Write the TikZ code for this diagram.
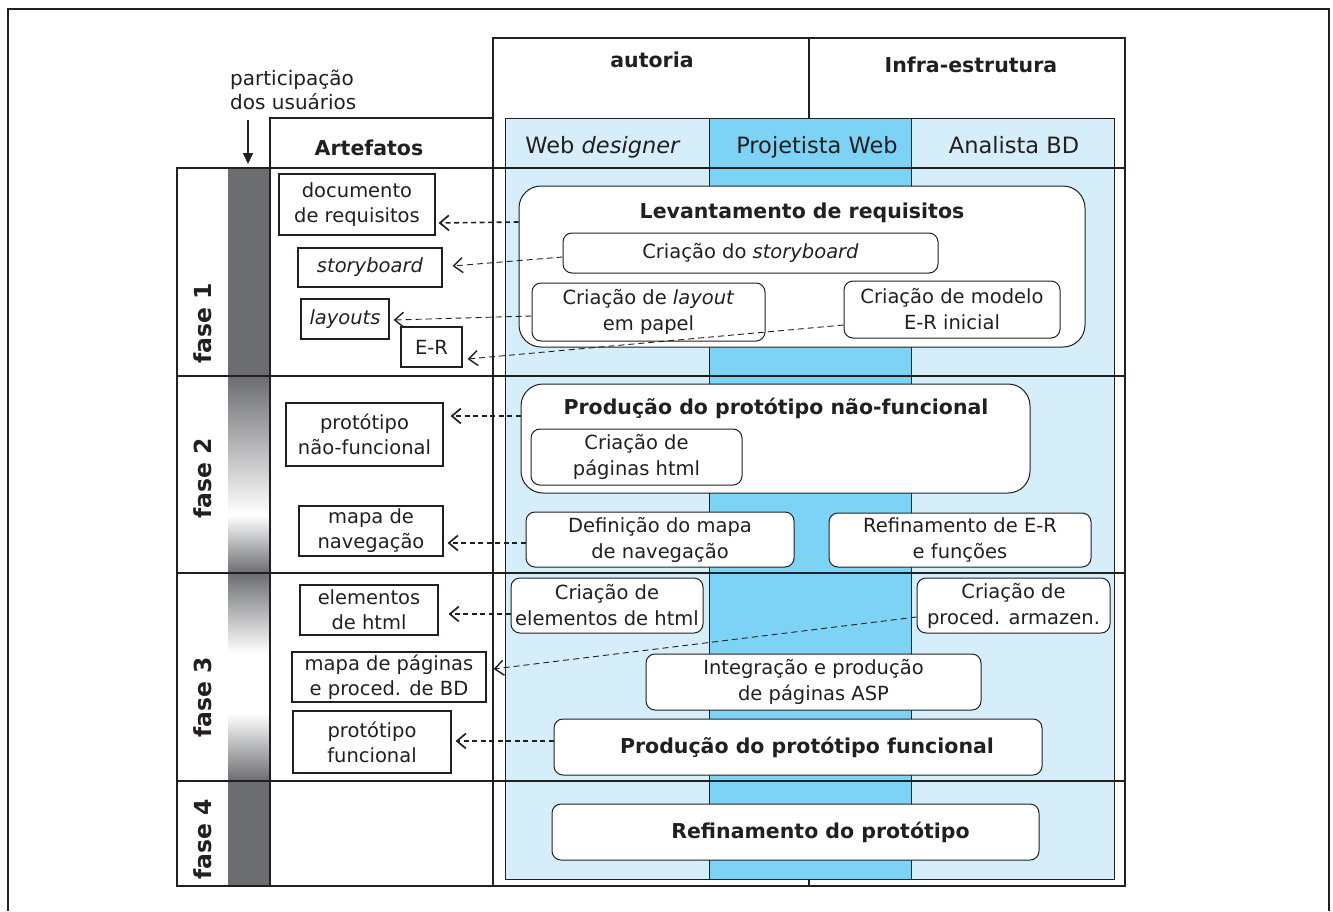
\documentclass[tikz,border=0pt]{standalone}
\usepackage{fontspec}
\setmainfont{DejaVu Sans}
\usetikzlibrary{positioning, arrows.meta, calc}

\definecolor{tinta}{RGB}{35,31,32}
\definecolor{azulclaro}{RGB}{214,237,250}
\definecolor{azulforte}{RGB}{125,211,245}
\definecolor{cinzabarra}{RGB}{108,109,113}

\begin{document}
\begin{tikzpicture}[
        x=1pt, y=-1pt,
        color=tinta,
        linha/.style={line width=1.3pt},
        artefato/.style={draw, line width=1.1pt, inner sep=0pt, align=center, font=\fontsize{19.5}{25}\selectfont},
        etapa/.style={draw, fill=white, line width=1pt, rounded corners=9pt, inner sep=0pt, align=center, font=\fontsize{19.5}{26}\selectfont},
        grupo/.style={etapa, rounded corners=22pt},
        titulo/.style={inner sep=0pt, font=\bfseries\fontsize{20.5}{24}\selectfont},
        papel/.style={inner sep=0pt, font=\fontsize{22.5}{26}\selectfont},
        fase/.style={rotate=90, inner sep=0pt, font=\bfseries\fontsize{23.5}{26}\selectfont},
        entrega/.style={dash pattern=on 5pt off 3.5pt, line width=1.6pt, -{Straight Barb[length=9pt, width=15pt, line width=1.7pt]}},
        entregafina/.style={dash pattern=on 6pt off 4pt, line width=0.9pt, -{Straight Barb[length=9pt, width=15pt, line width=1.4pt]}}
    ]
        \useasboundingbox (0,0) rectangle (1333,911);
        \draw[line width=2.2pt] (8,911) -- (8,9) -- (1329,9) -- (1329,911);

        % raias dos papeis
        \fill[azulclaro] (505,118) rectangle (1114,879);
        \fill[azulforte] (709,118) rectangle (911,879);
        \draw[line width=0.8pt] (505,118) rectangle (1114,879) (709,118) -- (709,879) (911,118) -- (911,879);

        % barra de participacao dos usuarios
        \fill[cinzabarra] (228,168) rectangle (270,376);
        \shade[top color=cinzabarra, bottom color=white] (228,376) rectangle (270,515);
        \shade[top color=white, bottom color=cinzabarra] (228,515) rectangle (270,573);
        \shade[top color=cinzabarra, bottom color=white] (228,573) rectangle (270,653);
        \shade[top color=white, bottom color=cinzabarra] (228,713) rectangle (270,781);
        \fill[cinzabarra] (228,781) rectangle (270,886);

        % grade da tabela
        \draw[linha] (493,38) rectangle (1125,886) (809,38) -- (809,118) (809,879) -- (809,886);
        \draw[linha] (270,118) rectangle (493,168);
        \draw[linha] (177,168) rectangle (493,886) (270,168) -- (270,886);
        \foreach \y in {168,376,573,781}
            \draw[linha] (177,\y) -- (1125,\y);

        % cabecalhos
        \node[titulo, anchor=base] (autoria) at (652,67) {autoria};
        \node[titulo, anchor=base] (infra) at (971,72) {Infra-estrutura};
        \node[titulo, anchor=base] (artef) at (369,155) {Artefatos};
        \node[papel, anchor=base] (webdes) at (603,153) {Web \textit{designer}};
        \node[papel, anchor=base] (projweb) at (817,153) {Projetista Web};
        \node[papel, anchor=base] (analbd) at (1014,153) {Analista BD};

        \node[align=left, anchor=north west, inner sep=0pt, font=\fontsize{20}{24}\selectfont] (usuarios) at (230,70) {participação\\dos usuários};
        \coordinate (barra) at (248,164);
        \draw[line width=1.6pt, -{Triangle[length=11pt, width=10pt]}] (usuarios.south -| barra) ++(0,10) -- (barra);

        \node[fase] (fase1) at (203,323) {fase 1};
        \node[fase] (fase2) at (203,478) {fase 2};
        \node[fase] (fase3) at (203,697) {fase 3};
        \node[fase] (fase4) at (203,839) {fase 4};

        % fase 1
        \node[grupo, minimum width=566pt, minimum height=161pt] (levant) at (802,266.5) {};
        \node[titulo, anchor=base] (levanttit) at (802,218) {Levantamento de requisitos};
        \node[etapa, minimum width=375pt, minimum height=40pt] (storyb) at (750.5,253) {Criação do \textit{storyboard}};
        \node[etapa, minimum width=233pt, minimum height=58pt] (layoutp) at (648.5,312) {Criação de \textit{layout}\\em papel};
        \node[etapa, minimum width=216pt, minimum height=57pt] (modeloer) at (952,309.5) {Criação de modelo\\E-R inicial};

        % fase 2
        \node[grupo, minimum width=509pt, minimum height=109pt] (prodnf) at (775.5,438.5) {};
        \node[titulo, anchor=base] (prodnftit) at (776,414) {Produção do protótipo não-funcional};
        \node[etapa, minimum width=211pt, minimum height=56pt] (paghtml) at (636.5,457) {Criação de\\páginas html};
        \node[etapa, minimum width=268pt, minimum height=55pt] (mapadef) at (660,539.5) {Definição do mapa\\de navegação};
        \node[etapa, minimum width=262pt, minimum height=54pt] (refiner) at (960,540) {Refinamento de E-R\\e funções};

        % fase 3
        \node[etapa, minimum width=192pt, minimum height=55pt] (elemhtml) at (607,605.5) {Criação de\\elementos de html};
        \node[etapa, minimum width=193pt, minimum height=55pt] (procarm) at (1013.5,605.5) {Criação de\\proced. armazen.};
        \node[etapa, minimum width=335pt, minimum height=56pt] (integra) at (813.5,682) {Integração e produção\\de páginas ASP};
        \node[etapa, titulo, minimum width=488pt, minimum height=56pt] (prodf) at (798,747) {\hspace*{18pt}Produção do protótipo funcional};

        % fase 4
        \node[etapa, titulo, minimum width=487pt, minimum height=56pt] (refinprot) at (795.5,832) {\hspace*{50pt}Refinamento do protótipo};

        % artefatos
        \node[artefato, minimum width=156pt, minimum height=61pt] (docreq) at (357,204.5) {documento\\de requisitos};
        \node[artefato, minimum width=144pt, minimum height=39pt] (storyart) at (370,267.5) {\textit{storyboard}};
        \node[artefato, minimum width=88pt, minimum height=40pt] (layoutsart) at (345,319) {\textit{layouts}};
        \node[artefato, minimum width=61pt, minimum height=40pt] (erart) at (431.5,347) {E-R};
        \node[artefato, minimum width=157pt, minimum height=63pt] (protnf) at (364.5,434.5) {protótipo\\não-funcional};
        \node[artefato, minimum width=144pt, minimum height=50pt] (mapanav) at (371,531) {mapa de\\navegação};
        \node[artefato, minimum width=138pt, minimum height=50pt] (elemart) at (369,610) {elementos\\de html};
        \node[artefato, minimum width=194pt, minimum height=50pt] (mapapag) at (389,677) {mapa de páginas\\e proced. de BD};
        \node[artefato, minimum width=158pt, minimum height=62pt] (protf) at (372,742) {protótipo\\funcional};

        % entregas
        \draw[entrega] ([yshift=44.5pt]levant.west) -- ([xshift=3pt, yshift=-18.5pt]docreq.east);
        \draw[entregafina] ([yshift=-4pt]storyb.west) -- ([xshift=10pt, yshift=1.5pt]storyart.east);
        \draw[entregafina] ([yshift=-4pt]layoutp.west) -- ([xshift=4pt, yshift=-1pt]layoutsart.east);
        \draw[entregafina] ([yshift=-15.5pt]modeloer.west) -- ([xshift=5pt, yshift=-12pt]erart.east);
        \draw[entrega] ([yshift=22.5pt]prodnf.west) -- ([xshift=7pt, yshift=18.5pt]protnf.east);
        \draw[entrega] ([yshift=-3.5pt]mapadef.west) -- ([xshift=4pt, yshift=-12pt]mapanav.east);
        \draw[entrega] ([yshift=-8.5pt]elemhtml.west) -- ([xshift=10pt, yshift=-4pt]elemart.east);
        \draw[entregafina] ([yshift=-11.5pt]procarm.west) -- ([xshift=7pt, yshift=8pt]mapapag.east);
        \draw[entrega] ([yshift=6pt]prodf.west) -- ([xshift=4pt, yshift=1pt]protf.east);
    \end{tikzpicture}
\end{document}
